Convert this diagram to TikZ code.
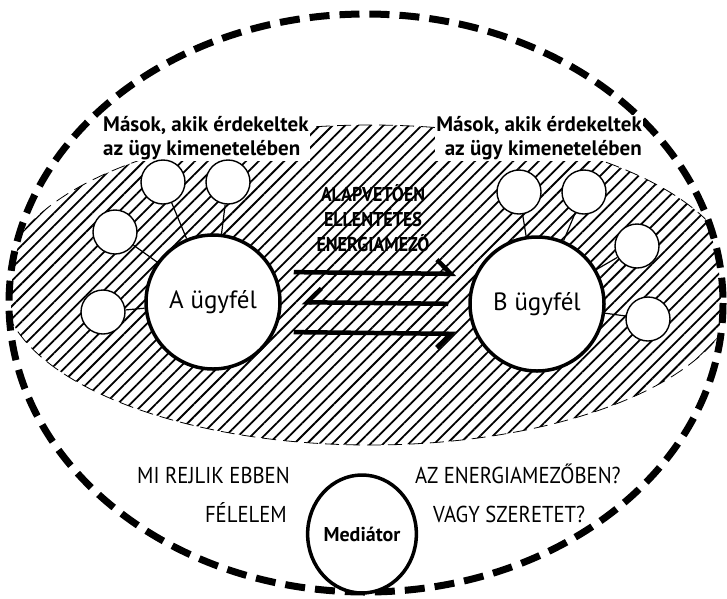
\documentclass[tikz,border=0pt]{standalone}
\usepackage{fontspec}
\setmainfont{PT Sans}
\newfontfamily\narrowfont{PT Sans}[FakeStretch=0.9]
\usetikzlibrary{arrows.meta,patterns.meta,shapes.geometric}

\begin{document}
\begin{tikzpicture}[x=1pt,y=-1pt,
    client/.style={circle,draw,line width=3.5pt,fill=white,minimum size=134pt,inner sep=0pt,font=\fontsize{25}{28}\selectfont},
    other/.style={circle,draw,line width=1.4pt,fill=white,minimum size=44pt,inner sep=0pt},
    tie/.style={line width=1.2pt},
    flow/.style={line width=4.5pt,shorten <=12pt,shorten >=12pt},
    others/.style={fill=white,inner sep=1pt,font=\bfseries\fontsize{21}{24}\selectfont},
    question/.style={font=\narrowfont\fontsize{23}{24}\selectfont,inner sep=0pt}]
    \useasboundingbox (0,0) rectangle (727,598);
    % hatched field, cut off by the outer ring
    \begin{scope}
        \clip (366,303) ellipse [x radius=355, y radius=287];
        \fill[pattern={Lines[angle=45,distance=9pt,line width=1.8pt]}] (370,285) ellipse [x radius=368, y radius=160];
        \draw[line width=0.8pt,dash pattern=on 14pt off 7pt] (370,285) ellipse [x radius=368, y radius=160];
    \end{scope}
    \draw[line width=7pt,dash pattern=on 20pt off 10pt] (366,303) ellipse [x radius=357, y radius=289];

    \node[others,anchor=west,align=left] (othersA) at (102,138) {Mások, akik érdekeltek\\az ügy kimenetelében};
    \node[others,anchor=east,align=right] (othersB) at (643,138) {Mások, akik érdekeltek\\az ügy kimenetelében};
    \node[font=\bfseries\narrowfont\fontsize{20}{25}\selectfont,align=center] (field) at (373,218) {ALAPVETŐEN\\ELLENTÉTES\\ENERGIAMEZŐ};

    \node[client] (A) at (213,302) {A ügyfél};
    \node[client] (B) at (537,304) {B ügyfél};
    \node[other] (a1) at (163,182) {};
    \node[other] (a2) at (228,182) {};
    \node[other] (a3) at (115,232) {};
    \node[other] (a4) at (103,312) {};
    \node[other] (b1) at (519,192) {};
    \node[other] (b2) at (584,192) {};
    \node[other] (b3) at (637,246) {};
    \node[other] (b4) at (648,319) {};
    \foreach \o in {a1,a2,a3,a4} \draw[tie] (\o) -- (A);
    \foreach \o in {b1,b2,b3,b4} \draw[tie] (\o) -- (B);

    \draw[flow,-{Straight Barb[harpoon,length=14pt,width=28pt]}] ([yshift=30pt]A.east) -- ([yshift=30pt]B.west);
    \draw[flow,shorten <=20pt,shorten >=20pt,-{Straight Barb[harpoon,swap,length=14pt,width=28pt]}] (B.west) -- (A.east);
    \draw[flow,-{Straight Barb[harpoon,swap,length=14pt,width=28pt]}] ([yshift=-30pt]A.east) -- ([yshift=-30pt]B.west);

    \node[question,anchor=base west] (hidden) at (137,483) {MI REJLIK EBBEN};
    \node[question,anchor=base west] (inField) at (415,483) {AZ ENERGIAMEZŐBEN?};
    \node[question,anchor=base east] (fear) at (287,522) {FÉLELEM};
    \node[question,anchor=base west] (love) at (433,522) {VAGY SZERETET?};
    \node[ellipse,draw,line width=3.5pt,fill=white,minimum width=100pt,minimum height=118pt,inner sep=0pt,font=\bfseries\fontsize{20}{22}\selectfont] (mediator) at (362,534) {Mediátor};
\end{tikzpicture}
\end{document}
